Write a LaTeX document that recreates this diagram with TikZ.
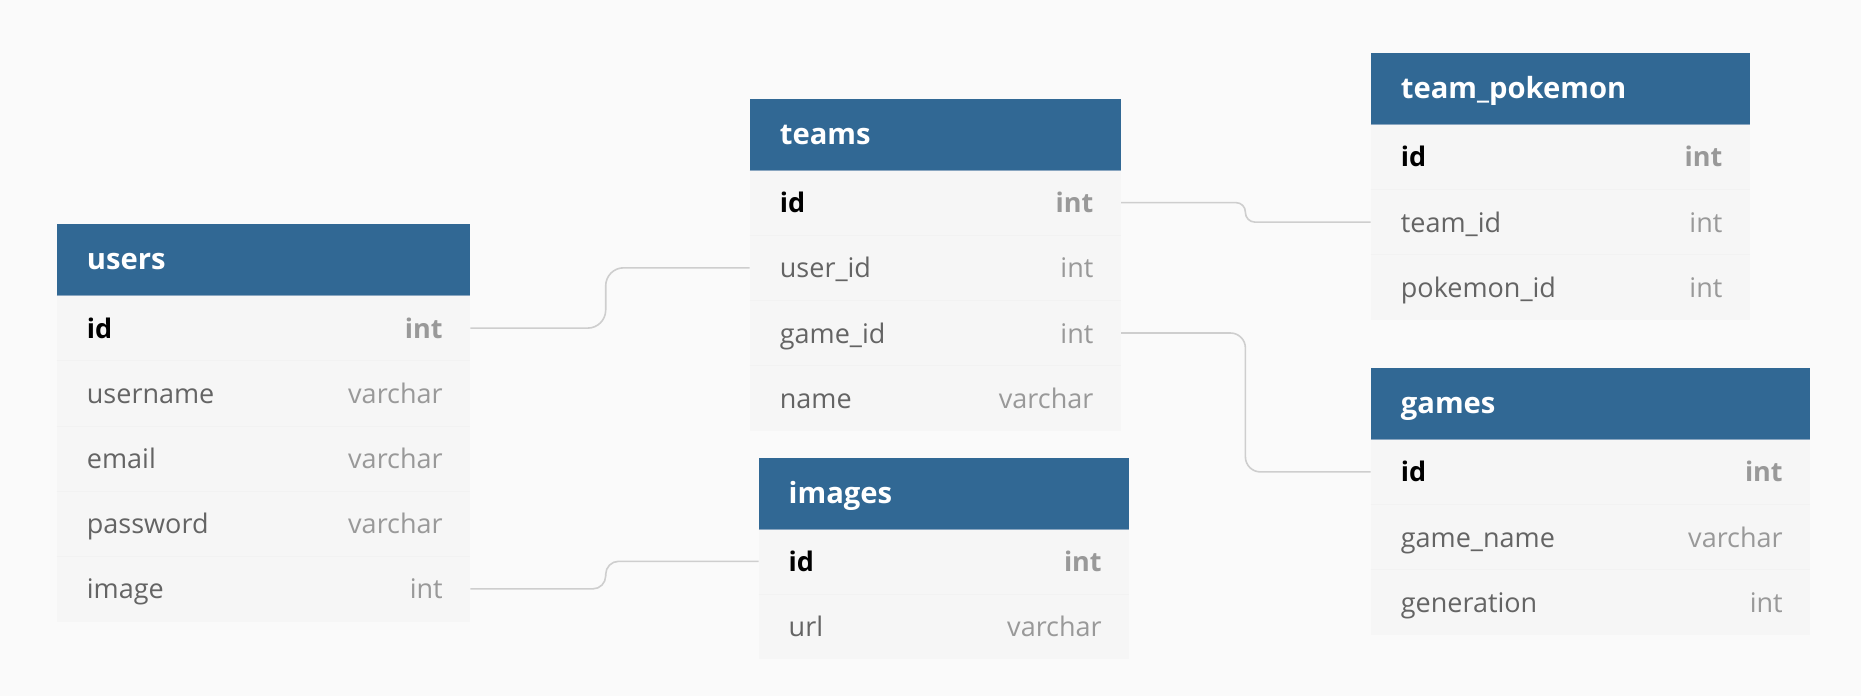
\documentclass[tikz,border=0pt]{standalone}
\usepackage{fontspec}
\setmainfont{Open Sans}
\definecolor{pagebg}{HTML}{FAFAFA}
\definecolor{hdrblue}{HTML}{316894}
\definecolor{hdrline}{HTML}{8AA6C0}
\definecolor{bodybg}{HTML}{F6F6F6}
\definecolor{sepline}{HTML}{F2F2F2}
\definecolor{fieldgray}{HTML}{646464}
\definecolor{typegray}{HTML}{999999}
\definecolor{linegray}{HTML}{CECECE}
\newcommand{\fieldfont}{\fontsize{27}{31}\selectfont}
\newcommand{\titlefont}{\fontsize{29.2}{33}\selectfont\bfseries}
\tikzset{
  hdr/.style={rectangle, fill=hdrblue, draw=none, anchor=north west, inner sep=0pt, minimum height=71.3pt},
  tbody/.style={rectangle, fill=bodybg, draw=none, anchor=north west, inner sep=0pt},
  rowbox/.style={rectangle, draw=none, anchor=west, inner sep=0pt, minimum height=65.2pt},
  ttl/.style={anchor=base west, inner sep=0pt, font=\titlefont, text=white},
  fname/.style={anchor=base west, inner sep=0pt, font=\fieldfont, text=fieldgray},
  ftype/.style={anchor=base east, inner sep=0pt, font=\fieldfont, text=typegray},
  pkname/.style={fname, font=\fieldfont\bfseries, text=black},
  pktype/.style={ftype, font=\fieldfont\bfseries, text=typegray},
  rel/.style={draw=linegray, line width=1.6pt},
  sep/.style={draw=sepline, line width=1pt},
  hline/.style={draw=hdrline, line width=1pt}
}
\begin{document}
\begin{tikzpicture}[x=1pt, y=-1pt]
\fill[pagebg] (0,0) rectangle (1861,696);
\useasboundingbox (0,0) rectangle (1861,696);

% ---------- users ----------
\node[tbody, minimum width=413.3pt, minimum height=326pt] (users) at (56.7,295.5) {};
\node[hdr, minimum width=413.3pt] (users-h) at (56.7,224) {};
\draw[hline] (users-h.south west) -- (users-h.south east);
\node[ttl] (users-t) at ([xshift=30pt,yshift=-10pt]users-h.west) {users};
\node[rowbox, minimum width=413.3pt] (users-id) at (56.7,328.1) {};
\node[rowbox, minimum width=413.3pt] (users-username) at (56.7,393.3) {};
\node[rowbox, minimum width=413.3pt] (users-email) at (56.7,458.5) {};
\node[rowbox, minimum width=413.3pt] (users-password) at (56.7,523.7) {};
\node[rowbox, minimum width=413.3pt] (users-image) at (56.7,588.9) {};
\foreach \r in {id,username,email,password}{\draw[sep] (users-\r.south west) -- (users-\r.south east);}
\node[pkname] (users-id-n) at ([xshift=30pt,yshift=-10pt]users-id.west) {id};
\node[pktype] (users-id-y) at ([xshift=-27.5pt,yshift=-10pt]users-id.east) {int};
\node[fname] (users-username-n) at ([xshift=30pt,yshift=-10pt]users-username.west) {username};
\node[ftype] (users-username-y) at ([xshift=-27.5pt,yshift=-10pt]users-username.east) {varchar};
\node[fname] (users-email-n) at ([xshift=30pt,yshift=-10pt]users-email.west) {email};
\node[ftype] (users-email-y) at ([xshift=-27.5pt,yshift=-10pt]users-email.east) {varchar};
\node[fname] (users-password-n) at ([xshift=30pt,yshift=-10pt]users-password.west) {password};
\node[ftype] (users-password-y) at ([xshift=-27.5pt,yshift=-10pt]users-password.east) {varchar};
\node[fname] (users-image-n) at ([xshift=30pt,yshift=-10pt]users-image.west) {image};
\node[ftype] (users-image-y) at ([xshift=-27.5pt,yshift=-10pt]users-image.east) {int};

% ---------- teams ----------
\node[tbody, minimum width=371pt, minimum height=260.8pt] (teams) at (749.7,170) {};
\node[hdr, minimum width=371pt] (teams-h) at (749.7,98.7) {};
\draw[hline] (teams-h.south west) -- (teams-h.south east);
\node[ttl] (teams-t) at ([xshift=30pt,yshift=-10pt]teams-h.west) {teams};
\node[rowbox, minimum width=371pt] (teams-id) at (749.7,202.6) {};
\node[rowbox, minimum width=371pt] (teams-userid) at (749.7,267.8) {};
\node[rowbox, minimum width=371pt] (teams-gameid) at (749.7,333.0) {};
\node[rowbox, minimum width=371pt] (teams-name) at (749.7,398.2) {};
\foreach \r in {id,userid,gameid}{\draw[sep] (teams-\r.south west) -- (teams-\r.south east);}
\node[pkname] (teams-id-n) at ([xshift=30pt,yshift=-10pt]teams-id.west) {id};
\node[pktype] (teams-id-y) at ([xshift=-27.5pt,yshift=-10pt]teams-id.east) {int};
\node[fname] (teams-userid-n) at ([xshift=30pt,yshift=-10pt]teams-userid.west) {user\_id};
\node[ftype] (teams-userid-y) at ([xshift=-27.5pt,yshift=-10pt]teams-userid.east) {int};
\node[fname] (teams-gameid-n) at ([xshift=30pt,yshift=-10pt]teams-gameid.west) {game\_id};
\node[ftype] (teams-gameid-y) at ([xshift=-27.5pt,yshift=-10pt]teams-gameid.east) {int};
\node[fname] (teams-name-n) at ([xshift=30pt,yshift=-10pt]teams-name.west) {name};
\node[ftype] (teams-name-y) at ([xshift=-27.5pt,yshift=-10pt]teams-name.east) {varchar};

% ---------- images ----------
\node[tbody, minimum width=370.5pt, minimum height=130.4pt] (images) at (758.5,528.7) {};
\node[hdr, minimum width=370.5pt] (images-h) at (758.5,457.4) {};
\draw[hline] (images-h.south west) -- (images-h.south east);
\node[ttl] (images-t) at ([xshift=30pt,yshift=-10pt]images-h.west) {images};
\node[rowbox, minimum width=370.5pt] (images-id) at (758.5,561.3) {};
\node[rowbox, minimum width=370.5pt] (images-url) at (758.5,626.5) {};
\draw[sep] (images-id.south west) -- (images-id.south east);
\node[pkname] (images-id-n) at ([xshift=30pt,yshift=-10pt]images-id.west) {id};
\node[pktype] (images-id-y) at ([xshift=-27.5pt,yshift=-10pt]images-id.east) {int};
\node[fname] (images-url-n) at ([xshift=30pt,yshift=-10pt]images-url.west) {url};
\node[ftype] (images-url-y) at ([xshift=-27.5pt,yshift=-10pt]images-url.east) {varchar};

% ---------- team_pokemon ----------
\node[tbody, minimum width=379pt, minimum height=195.6pt] (tp) at (1370.7,124.3) {};
\node[hdr, minimum width=379pt] (tp-h) at (1370.7,53) {};
\draw[hline] (tp-h.south west) -- (tp-h.south east);
\node[ttl] (tp-t) at ([xshift=30pt,yshift=-10pt]tp-h.west) {team\_pokemon};
\node[rowbox, minimum width=379pt] (tp-id) at (1370.7,156.9) {};
\node[rowbox, minimum width=379pt] (tp-teamid) at (1370.7,222.1) {};
\node[rowbox, minimum width=379pt] (tp-pokemonid) at (1370.7,287.3) {};
\foreach \r in {id,teamid}{\draw[sep] (tp-\r.south west) -- (tp-\r.south east);}
\node[pkname] (tp-id-n) at ([xshift=30pt,yshift=-10pt]tp-id.west) {id};
\node[pktype] (tp-id-y) at ([xshift=-27.5pt,yshift=-10pt]tp-id.east) {int};
\node[fname] (tp-teamid-n) at ([xshift=30pt,yshift=-10pt]tp-teamid.west) {team\_id};
\node[ftype] (tp-teamid-y) at ([xshift=-27.5pt,yshift=-10pt]tp-teamid.east) {int};
\node[fname] (tp-pokemonid-n) at ([xshift=30pt,yshift=-10pt]tp-pokemonid.west) {pokemon\_id};
\node[ftype] (tp-pokemonid-y) at ([xshift=-27.5pt,yshift=-10pt]tp-pokemonid.east) {int};

% ---------- games ----------
\node[tbody, minimum width=439.3pt, minimum height=195.6pt] (games) at (1370.7,439.3) {};
\node[hdr, minimum width=439.3pt] (games-h) at (1370.7,368) {};
\draw[hline] (games-h.south west) -- (games-h.south east);
\node[ttl] (games-t) at ([xshift=30pt,yshift=-10pt]games-h.west) {games};
\node[rowbox, minimum width=439.3pt] (games-id) at (1370.7,471.9) {};
\node[rowbox, minimum width=439.3pt] (games-gamename) at (1370.7,537.1) {};
\node[rowbox, minimum width=439.3pt] (games-generation) at (1370.7,602.3) {};
\foreach \r in {id,gamename}{\draw[sep] (games-\r.south west) -- (games-\r.south east);}
\node[pkname] (games-id-n) at ([xshift=30pt,yshift=-10pt]games-id.west) {id};
\node[pktype] (games-id-y) at ([xshift=-27.5pt,yshift=-10pt]games-id.east) {int};
\node[fname] (games-gamename-n) at ([xshift=30pt,yshift=-10pt]games-gamename.west) {game\_name};
\node[ftype] (games-gamename-y) at ([xshift=-27.5pt,yshift=-10pt]games-gamename.east) {varchar};
\node[fname] (games-generation-n) at ([xshift=30pt,yshift=-10pt]games-generation.west) {generation};
\node[ftype] (games-generation-y) at ([xshift=-27.5pt,yshift=-10pt]games-generation.east) {int};

% ---------- relations ----------
\draw[rel, rounded corners=18pt] (users-id.east) -- ++(135.3,0) |- (teams-userid.west);
\draw[rel, rounded corners=13pt] (users-image.east) -- ++(135.3,0) |- (images-id.west);
\draw[rel, rounded corners=9.5pt] (teams-id.east) -- ++(124.3,0) |- (tp-teamid.west);
\draw[rel, rounded corners=15pt] (teams-gameid.east) -- ++(124.3,0) |- (games-id.west);
\end{tikzpicture}
\end{document}
